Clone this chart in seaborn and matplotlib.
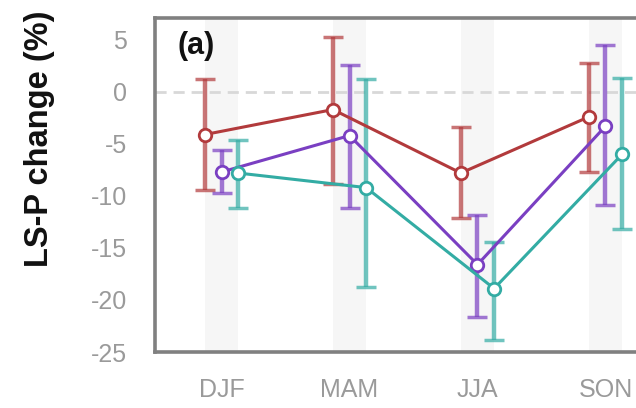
import numpy as np
import pandas as pd
import seaborn as sns
import matplotlib.pyplot as plt

seasons = ["DJF", "MAM", "JJA", "SON"]
series = ["A", "B", "C"]

mean_a = [-4.1, -1.7, -7.8, -2.4]
low_a = [-9.4, -8.9, -12.1, -7.7]
high_a = [1.2, 5.3, -3.4, 2.8]

mean_b = [-7.7, -4.2, -16.6, -3.3]
low_b = [-9.7, -11.2, -21.6, -10.9]
high_b = [-5.6, 2.6, -11.8, 4.5]

mean_c = [-7.8, -9.2, -18.9, -6.0]
low_c = [-11.2, -18.8, -23.8, -13.2]
high_c = [-4.6, 1.2, -14.4, 1.3]

yticks = [5, 0, -5, -10, -15, -20, -25]

colors = {"A": "#b23a3c", "B": "#7a3fc2", "C": "#33aca4"}
offsets = {"A": -0.13, "B": 0.0, "C": 0.13}

rows = []
for name, m, lo, hi in [("A", mean_a, low_a, high_a),
                        ("B", mean_b, low_b, high_b),
                        ("C", mean_c, low_c, high_c)]:
    for i, s in enumerate(seasons):
        rows.append({"series": name, "season": s, "x": i + offsets[name],
                     "mean": m[i], "low": lo[i], "high": hi[i]})
df = pd.DataFrame(rows)

sns.set_style("white")
plt.rcParams["font.family"] = ["Liberation Sans", "DejaVu Sans"]

fig = plt.figure(figsize=(6.36, 4.08), dpi=100)
ax = fig.add_axes([155 / 636, 1 - 352 / 408, 517 / 636, 334 / 408])

# light gray bands behind each season
for i in range(len(seasons)):
    ax.axvspan(i - 0.13, i + 0.13, color="#f6f6f6", zorder=0, lw=0)
ax.axhline(0, color="#d8d8d8", ls=(0, (4, 2.5)), lw=2, zorder=1)

for name in series:
    d = df[df["series"] == name]
    ax.errorbar(d["x"], d["mean"],
                yerr=[d["mean"] - d["low"], d["high"] - d["mean"]],
                fmt="none", ecolor=colors[name], elinewidth=3.2, capsize=7,
                capthick=2.5, alpha=0.7, zorder=2)

sns.lineplot(data=df, x="x", y="mean", hue="series", palette=colors,
             sort=True, estimator=None, lw=2.2, marker="o", markersize=9,
             markerfacecolor="white", markeredgewidth=2, legend=False,
             ax=ax, zorder=3)
for line, name in zip(ax.lines[-3:], series):
    line.set_markeredgecolor(colors[name])

ax.set_xlim(-0.52, 3.52)
ax.set_ylim(-25, 7.1)
ax.set_xticks(range(len(seasons)))
ax.set_xticklabels(seasons)
ax.set_yticks(yticks)
ax.set_yticklabels([str(t) for t in yticks])
ax.tick_params(axis="both", length=0, labelsize=18, labelcolor="#9a9a9a", pad=20)
ax.tick_params(axis="x", pad=19)
ax.set_xlabel("")
ax.set_ylabel("")

for sp in ax.spines.values():
    sp.set_color("#808080")
    sp.set_linewidth(2.6)

fig.text(40 / 636, 1 - 267 / 408, "LS-P change (%)", rotation=90,
         ha="center", va="bottom", fontsize=23.5, fontweight="bold", color="#111111")

ax.text(0.043, 0.916, "(a)", transform=ax.transAxes, fontsize=22,
        fontweight="bold", color="#111111", va="center")

fig.savefig("out.png", dpi=100)
